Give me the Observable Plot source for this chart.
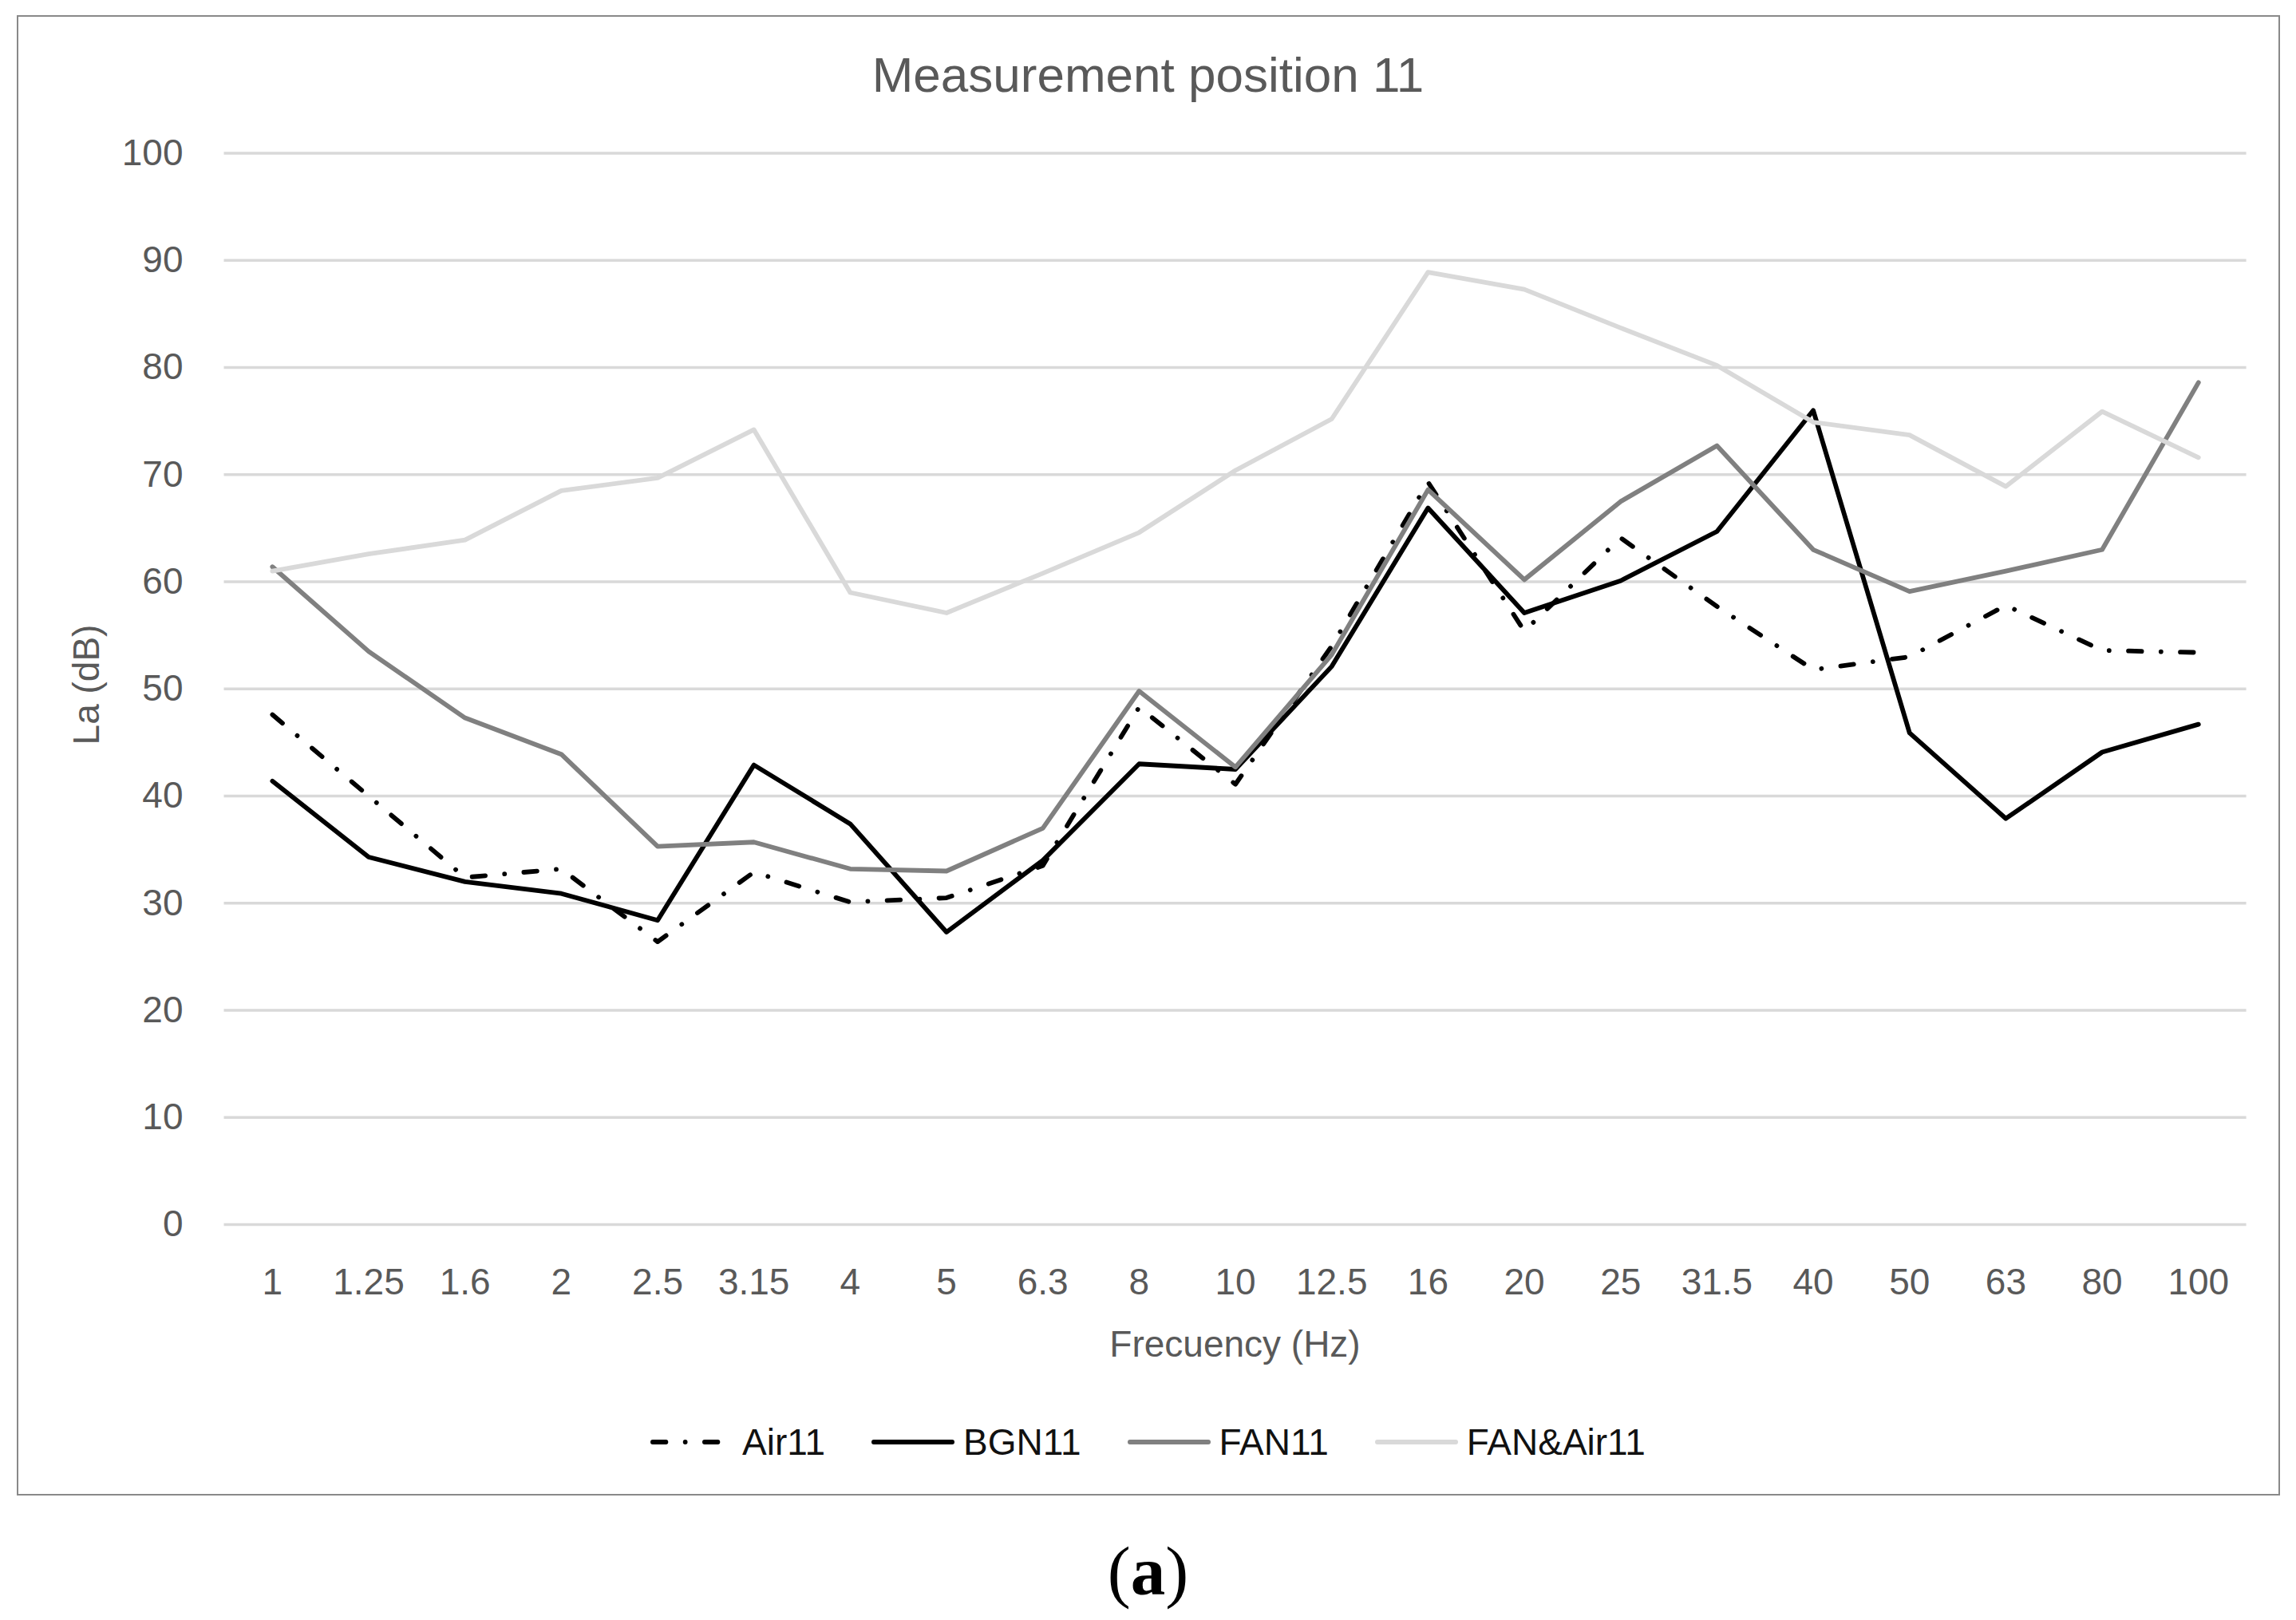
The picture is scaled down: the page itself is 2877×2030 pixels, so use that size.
<!DOCTYPE html>
<html>
<head>
<meta charset="utf-8">
<script src="https://cdn.jsdelivr.net/npm/d3@7"></script>
<script src="https://cdn.jsdelivr.net/npm/@observablehq/plot@0.6"></script>
<style>
  html, body { margin: 0; padding: 0; background: #fff; }
  #wrap { position: relative; width: 2877px; height: 2030px; overflow: hidden; background: #fff; font-family: "Liberation Sans", Arial, sans-serif; }
  #wrap svg { position: absolute; left: 0; top: 0; }
  .frame { position: absolute; left: 21.4px; top: 19.4px; width: 2836px; height: 1855px; box-sizing: border-box; border: 2.7px solid #898989; }
  .txt { position: absolute; line-height: 1; white-space: nowrap; }
  #title { left: 0; width: 2877px; top: 63.2px; font-size: 62px; color: #595959; text-align: center; }
  #xlabel { left: 280.5px; width: 2534px; top: 1661px; font-size: 46px; color: #595959; text-align: center; }
  #ylabel { left: -92px; width: 400px; height: 46px; top: 835px; font-size: 46px; color: #595959; text-align: center; transform: rotate(-90deg); }
  #legend { position: absolute; left: 0; width: 2877px; top: 1783.8px; display: flex; justify-content: center; gap: 58px; font-size: 46px; line-height: 1; color: #111; }
  #legend .item { display: flex; align-items: center; }
  #legend svg { position: static; margin-right: 11px; }
  #caption { left: 0; width: 2877px; top: 1925px; font-size: 87px; color: #000; text-align: center; font-family: "Liberation Serif", "Times New Roman", serif; }
</style>
</head>
<body>
<div id="wrap">
  <div class="frame"></div>
  <div class="txt" id="title">Measurement position 11</div>
  <div class="txt" id="ylabel">La (dB)</div>
  <div class="txt" id="xlabel">Frecuency (Hz)</div>
  <div id="legend"></div>
  <div class="txt" id="caption">(<b>a</b>)</div>
</div>
<script>
// Categories (1/3-octave band centre frequencies, Hz)
const freqs = ["1","1.25","1.6","2","2.5","3.15","4","5","6.3","8","10","12.5","16","20","25","31.5","40","50","63","80","100"];
// Y ticks
const yTicks = [0,10,20,30,40,50,60,70,80,90,100];
// Series values (dB)
const air11    = [47.6, 40.0, 32.4, 33.2, 26.4, 32.9, 30.1, 30.5, 33.5, 48.3, 41.1, 54.0, 69.3, 55.4, 64.1, 57.7, 51.8, 53.0, 57.8, 53.6, 53.4];
const bgn11    = [41.4, 34.3, 32.0, 30.9, 28.4, 42.9, 37.4, 27.3, 34.0, 43.0, 42.5, 52.1, 66.9, 57.1, 60.1, 64.7, 76.0, 45.9, 37.9, 44.1, 46.7];
const fan11    = [61.4, 53.5, 47.3, 43.9, 35.3, 35.7, 33.2, 33.0, 37.0, 49.8, 42.7, 53.2, 68.6, 60.2, 67.5, 72.7, 63.0, 59.1, 61.0, 63.0, 78.6];
const fanAir11 = [61.0, 62.6, 63.9, 68.5, 69.7, 74.2, 59.0, 57.1, 60.8, 64.6, 70.4, 75.2, 88.9, 87.3, 83.7, 80.2, 74.9, 73.7, 68.9, 75.9, 71.6];
const seriesNames = ["Air11", "BGN11", "FAN11", "FAN&Air11"];

const seriesDefs = [
  {name: seriesNames[0], values: air11,    stroke: "#000000", dash: "16.5,24.25,0.01,24.25"},
  {name: seriesNames[1], values: bgn11,    stroke: "#000000", dash: null},
  {name: seriesNames[2], values: fan11,    stroke: "#808080", dash: null},
  {name: seriesNames[3], values: fanAir11, stroke: "#d9d9d9", dash: null}
];

const rows = seriesDefs.flatMap(s => s.values.map((v, i) => ({series: s.name, f: freqs[i], v})));

const lineWidth = 5.8;

const chart = Plot.plot({
  width: 2877,
  height: 2030,
  marginLeft: 280.5,
  marginRight: 62.4,
  marginTop: 191.6,
  marginBottom: 496,
  x: {type: "point", domain: freqs, padding: 0.5, round: false},
  y: {domain: [0, 100]},
  style: {fontFamily: "'Liberation Sans', Arial, sans-serif", color: "#595959", background: "transparent", overflow: "visible"},
  marks: [
    Plot.ruleY(yTicks, {stroke: "#d9d9d9", strokeWidth: 3.5}),
    Plot.axisY({ticks: yTicks, tickSize: 0, tickPadding: 51.5, fontSize: 46, label: null}),
    Plot.axisX({tickSize: 0, tickPadding: 55, fontSize: 46, label: null}),
    ...seriesDefs.map(s => Plot.line(rows.filter(r => r.series === s.name), {
      x: "f", y: "v",
      stroke: s.stroke,
      strokeWidth: lineWidth,
      strokeLinejoin: "round",
      strokeLinecap: "round",
      ...(s.dash ? {strokeDasharray: s.dash} : {})
    }))
  ]
});
document.getElementById("wrap").insertBefore(chart, document.getElementById("wrap").firstChild);

// Legend
const legend = document.getElementById("legend");
seriesDefs.forEach(s => {
  const item = document.createElement("div");
  item.className = "item";
  const ns = "http://www.w3.org/2000/svg";
  const svg = document.createElementNS(ns, "svg");
  svg.setAttribute("width", 104);
  svg.setAttribute("height", 20);
  const ln = document.createElementNS(ns, "line");
  ln.setAttribute("x1", 2.9); ln.setAttribute("x2", 101.1);
  ln.setAttribute("y1", 10); ln.setAttribute("y2", 10);
  ln.setAttribute("stroke", s.stroke);
  ln.setAttribute("stroke-width", lineWidth);
  ln.setAttribute("stroke-linecap", "round");
  if (s.dash) ln.setAttribute("stroke-dasharray", s.dash);
  svg.appendChild(ln);
  const t = document.createElement("span");
  t.textContent = s.name;
  item.appendChild(svg);
  item.appendChild(t);
  legend.appendChild(item);
});
</script>
</body>
</html>
